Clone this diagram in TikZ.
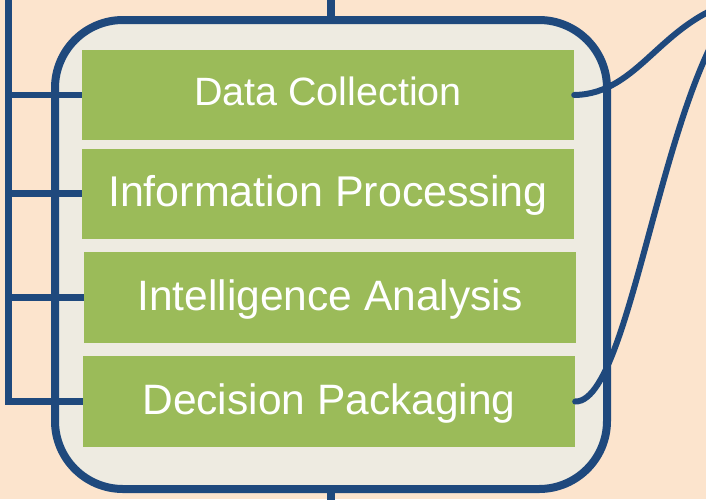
\documentclass[tikz,border=0pt]{standalone}
\usepackage{fontspec}
\setmainfont{Liberation Sans}
\definecolor{bgpeach}{HTML}{FCE4CD}
\definecolor{contfill}{HTML}{EEEBE1}
\definecolor{stagegreen}{HTML}{9BBB59}
\definecolor{linkblue}{HTML}{1F497D}
\tikzset{
  container/.style={draw=linkblue, line width=8pt, fill=contfill, rounded corners=68pt, minimum width=552pt, minimum height=469pt, inner sep=0pt},
  stagebox/.style={fill=stagegreen, text=white, minimum width=492pt, minimum height=90pt, inner sep=0pt, text height=30pt},
  bus/.style={draw=linkblue, line width=6.5pt, line join=miter},
  flow/.style={draw=linkblue, line width=6pt, line cap=round},
  stem/.style={draw=linkblue, line width=7.5pt}
}
\begin{document}
\begin{tikzpicture}[x=1pt, y=-1pt]
\fill[bgpeach] (0,0) rectangle (706,499);
\useasboundingbox (0,0) rectangle (706,499);
\clip (0,0) rectangle (706,499);
\node[container] (cont) at (331,254.5) {};
\coordinate (stemtop) at (331,-10);
\coordinate (stembot) at (331,510);
\draw[stem] (stemtop) -- (cont.north);
\draw[stem] (cont.south) -- (stembot);
\node[stagebox, font=\fontsize{39.5}{44}\selectfont, text depth=8.6pt] (dc) at (328,95) {Data Collection};
\node[stagebox, font=\fontsize{43}{48}\selectfont, text depth=3.6pt] (ip) at (328,193.5) {Information Processing};
\node[stagebox, font=\fontsize{42.5}{48}\selectfont, minimum height=91pt, text depth=5pt] (ia) at (330,297.5) {Intelligence Analysis};
\node[stagebox, font=\fontsize{42.5}{48}\selectfont, minimum height=91pt, text depth=4.4pt] (dp) at (329,401.5) {Decision Packaging};
\coordinate (bustop) at (8.5,-10);
\draw[bus] (bustop) |- (dp.west);
\draw[bus] (bustop |- dc.west) -- (dc.west);
\draw[bus] (bustop |- ip.west) -- (ip.west);
\draw[bus] (bustop |- ia.west) -- (ia.west);
\coordinate (out1) at (740,0);
\coordinate (out2) at (780,-20);
\draw[flow] (dc.east) .. controls (640,94) and (660,20) .. (out1);
\draw[flow] (dp.east) .. controls (640,403) and (670,-20) .. (out2);
\end{tikzpicture}
\end{document}
